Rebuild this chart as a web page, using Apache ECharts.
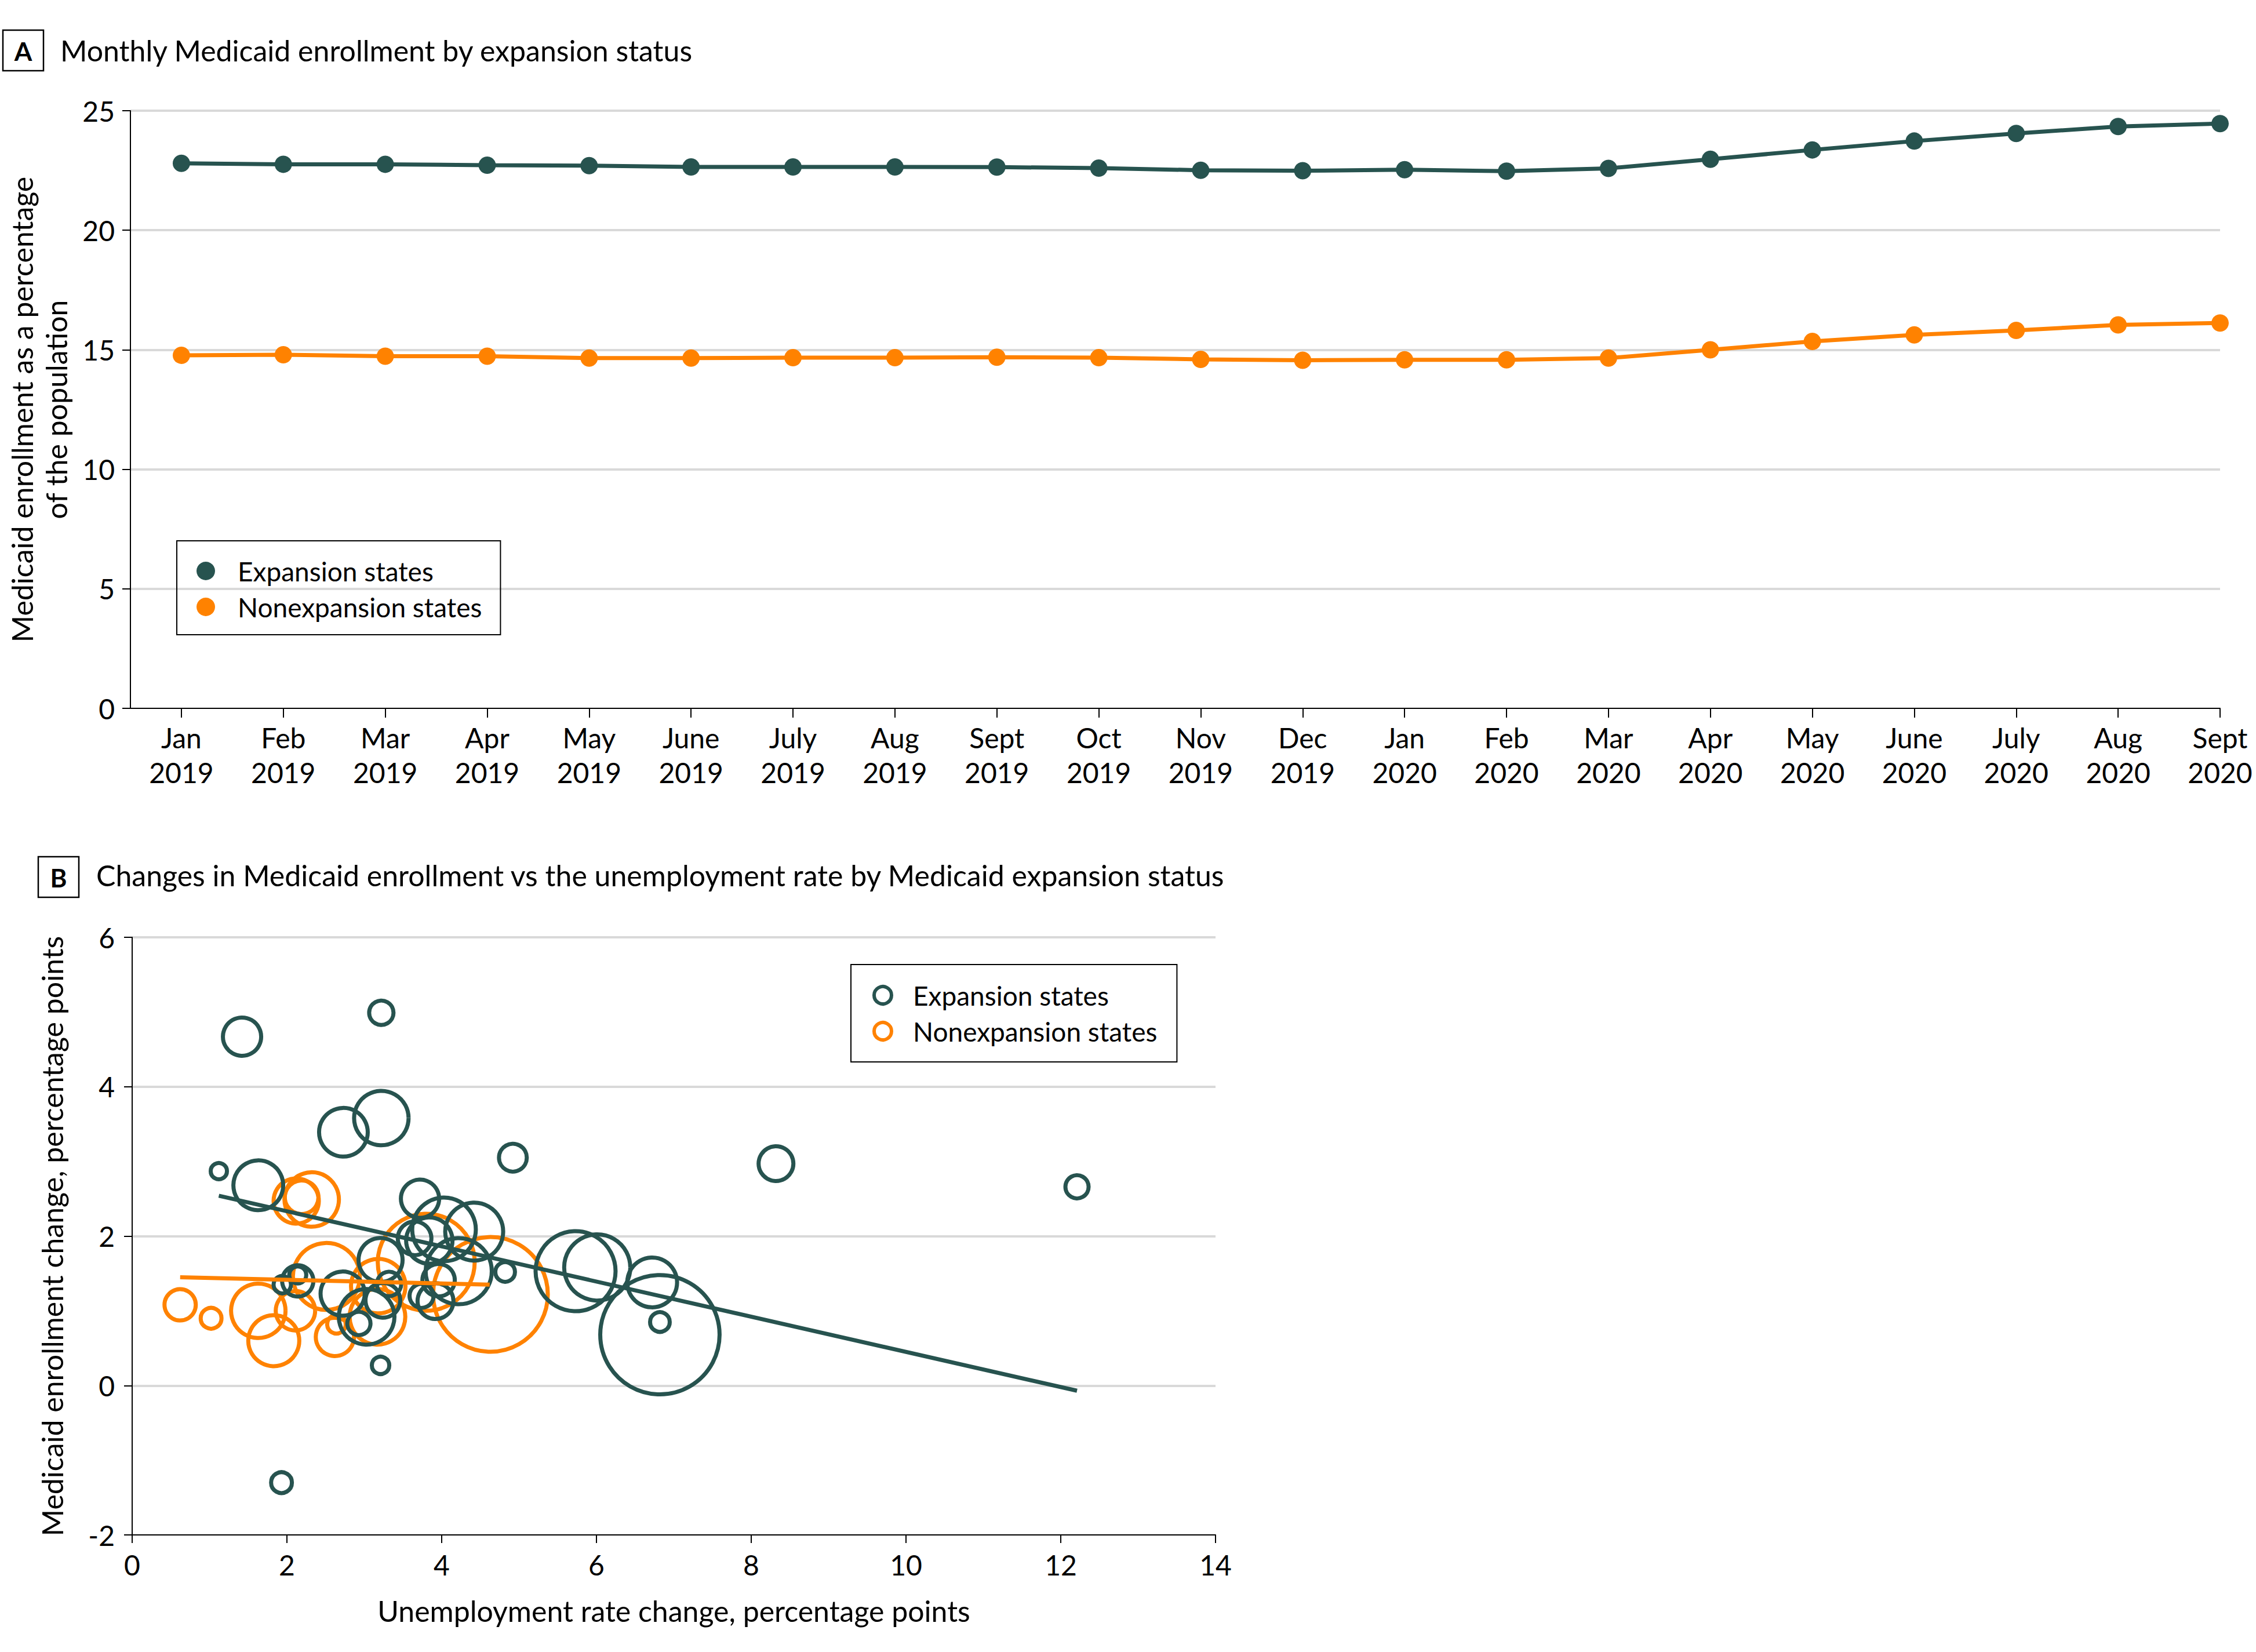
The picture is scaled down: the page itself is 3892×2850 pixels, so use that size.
<!DOCTYPE html>
<html>
<head>
<meta charset="utf-8">
<title>Medicaid enrollment by expansion status</title>
<script src="https://cdn.jsdelivr.net/npm/echarts@6/dist/echarts.min.js"></script>
<style>
  html, body { margin: 0; padding: 0; background: #fff; }
  #chart { width: 3892px; height: 2850px; }
</style>
</head>
<body>
<div id="chart"></div>
<script>
  // Panel A: monthly enrollment as % of population
  const months = ['Jan', 'Feb', 'Mar', 'Apr', 'May', 'June', 'July', 'Aug', 'Sept', 'Oct', 'Nov', 'Dec',
    'Jan', 'Feb', 'Mar', 'Apr', 'May', 'June', 'July', 'Aug', 'Sept'];
  const years = ['2019', '2019', '2019', '2019', '2019', '2019', '2019', '2019', '2019', '2019', '2019', '2019',
    '2020', '2020', '2020', '2020', '2020', '2020', '2020', '2020', '2020'];
  const expansionRate = [22.80, 22.76, 22.76, 22.72, 22.70, 22.65, 22.65, 22.65, 22.64, 22.60, 22.51, 22.49,
    22.53, 22.47, 22.59, 22.97, 23.36, 23.73, 24.05, 24.34, 24.46];
  const nonexpansionRate = [14.77, 14.79, 14.73, 14.73, 14.65, 14.65, 14.67, 14.67, 14.69, 14.67, 14.60, 14.56,
    14.58, 14.58, 14.65, 15.00, 15.35, 15.62, 15.81, 16.04, 16.12];

  // Panel B: [unemployment change, enrollment change, state weight]
  const expansionStates = [
    [1.42, 4.67, 4.05], [3.22, 4.99, 1.64], [2.73, 3.39, 6.56], [3.22, 3.58, 8.21],
    [4.92, 3.05, 2.14], [8.32, 2.97, 3.35], [12.21, 2.66, 1.49], [1.12, 2.87, 0.73],
    [1.63, 2.68, 6.87], [3.72, 2.50, 4.05], [4.03, 2.09, 11.2], [4.42, 2.06, 9.30],
    [3.65, 1.97, 3.13], [3.84, 1.94, 5.95], [4.22, 1.53, 12.1], [3.21, 1.68, 5.37],
    [3.96, 1.41, 2.91], [3.32, 1.36, 1.64], [3.92, 1.13, 3.57], [3.74, 1.20, 1.60],
    [3.24, 1.14, 3.35], [2.93, 0.83, 1.49], [3.03, 0.92, 8.57], [4.82, 1.52, 1.07],
    [5.73, 1.53, 17.7], [6.01, 1.58, 12.1], [6.72, 1.38, 6.87], [6.82, 0.68, 39.4],
    [6.82, 0.85, 1.07], [1.93, -1.30, 1.20], [3.21, 0.27, 0.84], [1.94, 1.35, 0.84],
    [2.14, 1.48, 0.80], [2.14, 1.40, 2.71], [2.72, 1.23, 5.40]
  ];
  const nonexpansionStates = [
    [0.62, 1.08, 2.71], [1.02, 0.90, 1.20], [1.63, 1.00, 8.21], [1.83, 0.60, 7.20],
    [2.11, 1.00, 4.30], [2.12, 2.47, 5.66], [2.19, 2.52, 3.13], [2.32, 2.49, 8.21],
    [2.51, 1.46, 12.4], [2.62, 0.65, 4.05], [2.64, 0.82, 0.95], [3.18, 1.33, 8.21],
    [3.17, 0.92, 8.57], [3.80, 1.65, 26.0], [4.63, 1.22, 36.4]
  ];
  const expansionFit = [[1.12, 2.54], [12.21, -0.07]];
  const nonexpansionFit = [[0.62, 1.45], [4.62, 1.35]];

  const TEAL = '#27534f';
  const ORANGE = '#ff8200';
  const GRID_GRAY = '#d9d9d9';
  const FONT = 'Lato';
  const FS = 48;        // tick labels
  const FS_TITLE = 50;  // titles, axis names
  const FS_LEGEND = 46;
  const BUBBLE_SCALE = 32.8;

  const monthIdx = months.map((m, i) => i);
  const axisLineStyle = { color: '#000', width: 2 };

  const chart = echarts.init(document.getElementById('chart'), null, { renderer: 'svg' });
  const option = {
    animation: false,
    backgroundColor: '#fff',
    textStyle: { fontFamily: FONT, color: '#000' },
    title: [
      {
        text: 'Monthly Medicaid enrollment by expansion status',
        left: 104, top: 58, padding: 0,
        textStyle: { fontSize: FS_TITLE, fontWeight: 'normal', color: '#000', lineHeight: 58 }
      },
      {
        text: 'Changes in Medicaid enrollment vs the unemployment rate by Medicaid expansion status',
        left: 166, top: 1481, padding: 0,
        textStyle: { fontSize: FS_TITLE, fontWeight: 'normal', color: '#000', lineHeight: 58 }
      }
    ],
    graphic: [
      { type: 'rect', shape: { x: 5, y: 52, width: 70, height: 70 }, style: { fill: '#fff', stroke: '#000', lineWidth: 2.5 } },
      { type: 'text', x: 40, y: 88, style: { text: 'A', fontSize: 44, fontWeight: 'bold', fontFamily: FONT, fill: '#000', align: 'center', verticalAlign: 'middle' } },
      { type: 'rect', shape: { x: 66, y: 1478, width: 70, height: 70 }, style: { fill: '#fff', stroke: '#000', lineWidth: 2.5 } },
      { type: 'text', x: 101, y: 1514, style: { text: 'B', fontSize: 44, fontWeight: 'bold', fontFamily: FONT, fill: '#000', align: 'center', verticalAlign: 'middle' } }
    ],
    legend: [
      {
        orient: 'vertical', left: 305, top: 933,
        data: [
          { name: 'Expansion states', icon: 'circle', itemStyle: { color: TEAL, borderWidth: 0 } },
          { name: 'Nonexpansion states', icon: 'circle', itemStyle: { color: ORANGE, borderWidth: 0 } }
        ],
        itemWidth: 32, itemHeight: 32, itemGap: 12,
        padding: [27, 32, 23, 34],
        borderColor: '#000', borderWidth: 2,
        selectedMode: false,
        textStyle: { fontSize: FS_LEGEND, lineHeight: 50, color: '#000', padding: [0, 0, 0, 34] }
      },
      {
        orient: 'vertical', left: 1468, top: 1664,
        data: [
          { name: 'Expansion states', icon: 'circle', itemStyle: { color: '#fff', borderColor: TEAL, borderWidth: 6 } },
          { name: 'Nonexpansion states', icon: 'circle', itemStyle: { color: '#fff', borderColor: ORANGE, borderWidth: 6 } }
        ],
        itemWidth: 30, itemHeight: 30, itemGap: 12,
        padding: [28, 34, 28, 37],
        borderColor: '#000', borderWidth: 2,
        selectedMode: false,
        textStyle: { fontSize: FS_LEGEND, lineHeight: 50, color: '#000', padding: [0, 0, 0, 32] }
      }
    ],
    grid: [
      { left: 218, top: 191, width: 3612, height: 1031 },
      { left: 228, top: 1617, width: 1869, height: 1031 }
    ],
    xAxis: [
      {
        gridIndex: 0, type: 'value', min: -0.5, max: 20,
        axisLine: { show: true, onZero: false, lineStyle: axisLineStyle },
        axisTick: { show: true, customValues: monthIdx, length: 16, lineStyle: axisLineStyle },
        axisLabel: {
          customValues: monthIdx,
          formatter: v => months[v] + '\n' + years[v],
          fontSize: FS, lineHeight: 60, margin: 20, color: '#000'
        },
        splitLine: { show: false }
      },
      {
        gridIndex: 1, type: 'value', min: 0, max: 14, interval: 2,
        name: 'Unemployment rate change, percentage points',
        nameLocation: 'middle', nameGap: 106,
        nameTextStyle: { fontSize: FS_TITLE, color: '#000' },
        axisLine: { show: true, onZero: false, lineStyle: axisLineStyle },
        axisTick: { show: true, length: 14, lineStyle: axisLineStyle },
        axisLabel: { fontSize: FS, margin: 27, color: '#000' },
        splitLine: { show: false }
      }
    ],
    yAxis: [
      {
        gridIndex: 0, type: 'value', min: 0, max: 25, interval: 5,
        name: 'Medicaid enrollment as a percentage\nof the population',
        nameLocation: 'middle', nameGap: 99,
        nameTextStyle: { fontSize: FS_TITLE, lineHeight: 59, color: '#000' },
        axisLine: { show: true, onZero: false, lineStyle: axisLineStyle },
        axisTick: { show: true, length: 14, lineStyle: axisLineStyle },
        axisLabel: { fontSize: FS, margin: 27, color: '#000' },
        splitLine: { show: true, showMinLine: false, lineStyle: { color: GRID_GRAY, width: 4 } }
      },
      {
        gridIndex: 1, type: 'value', min: -2, max: 6, interval: 2,
        name: 'Medicaid enrollment change, percentage points',
        nameLocation: 'middle', nameGap: 113,
        nameTextStyle: { fontSize: FS_TITLE, color: '#000' },
        axisLine: { show: true, onZero: false, lineStyle: axisLineStyle },
        axisTick: { show: true, length: 14, lineStyle: axisLineStyle },
        axisLabel: { fontSize: FS, margin: 30, color: '#000' },
        splitLine: { show: true, showMinLine: false, lineStyle: { color: GRID_GRAY, width: 4 } }
      }
    ],
    series: [
      {
        name: 'Expansion states', type: 'line', xAxisIndex: 0, yAxisIndex: 0,
        data: expansionRate.map((v, i) => [i, v]),
        symbol: 'circle', symbolSize: 30,
        lineStyle: { color: TEAL, width: 7 }, itemStyle: { color: TEAL }
      },
      {
        name: 'Nonexpansion states', type: 'line', xAxisIndex: 0, yAxisIndex: 0,
        data: nonexpansionRate.map((v, i) => [i, v]),
        symbol: 'circle', symbolSize: 30,
        lineStyle: { color: ORANGE, width: 7 }, itemStyle: { color: ORANGE }
      },
      {
        name: 'Nonexpansion states', type: 'scatter', xAxisIndex: 1, yAxisIndex: 1,
        data: nonexpansionStates,
        symbol: 'circle', symbolSize: d => BUBBLE_SCALE * Math.sqrt(d[2]),
        itemStyle: { color: 'rgba(255,255,255,0)', borderColor: ORANGE, borderWidth: 7, opacity: 1 }
      },
      {
        name: 'Expansion states', type: 'scatter', xAxisIndex: 1, yAxisIndex: 1,
        data: expansionStates,
        symbol: 'circle', symbolSize: d => BUBBLE_SCALE * Math.sqrt(d[2]),
        itemStyle: { color: 'rgba(255,255,255,0)', borderColor: TEAL, borderWidth: 7, opacity: 1 }
      },
      {
        name: 'Nonexpansion states', type: 'line', xAxisIndex: 1, yAxisIndex: 1,
        data: nonexpansionFit, symbol: 'none',
        lineStyle: { color: ORANGE, width: 7 }
      },
      {
        name: 'Expansion states', type: 'line', xAxisIndex: 1, yAxisIndex: 1,
        data: expansionFit, symbol: 'none',
        lineStyle: { color: TEAL, width: 7 }
      }
    ]
  };
  chart.setOption(option);
</script>
</body>
</html>
